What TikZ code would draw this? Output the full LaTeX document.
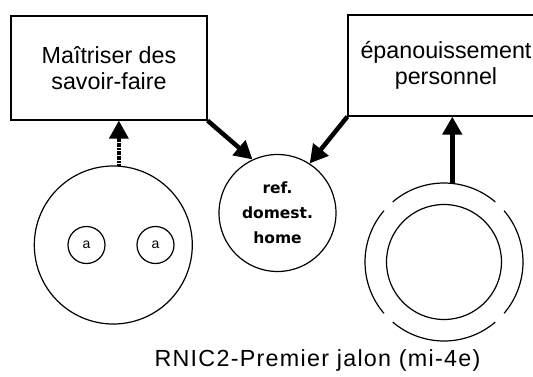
\documentclass[tikz,border=0pt]{standalone}
\usepackage{fontspec}
\setmainfont{Liberation Sans}
\newfontfamily\genevafont{DejaVu Sans}
\usetikzlibrary{arrows.meta}

\begin{document}
\begin{tikzpicture}[
  x=1pt, y=1pt,
  every node/.style={inner sep=0pt},
  goal/.style={draw, line width=1.2pt, align=center, minimum width=196pt, font=\fontsize{23.3}{26.5}\selectfont},
  bubble/.style={draw, circle, line width=1.2pt},
  link/.style={line width=4.5pt, -{Triangle[length=18pt,width=19pt]}},
  chain/.style={line width=3.5pt, dash pattern=on 2pt off 0.6pt, -{Triangle[length=18pt,width=19pt]}}
]
\useasboundingbox (0,0) rectangle (533,376);

\node[goal, minimum height=104pt] (skills) at (109,308) {Maîtriser des\\savoir-faire};
\node[goal, minimum height=101pt] (growth) at (446,310.5) {épanouissement\\personnel};

\node[bubble, minimum size=158pt] (group) at (113.3,131) {};
\node[bubble, minimum size=37pt, font=\fontsize{14}{16}\selectfont] (a1) at (86.5,131) {a};
\node[bubble, minimum size=37pt, font=\fontsize{14}{16}\selectfont] (a2) at (155.5,131) {a};

\node[bubble, minimum size=117pt, align=center, font=\genevafont\bfseries\fontsize{15.5}{25}\selectfont] (home) at (277.5,163) {ref.\\domest.\\home};

\node[bubble, minimum size=115pt] (self) at (444,114) {};
\node[circle, minimum size=158pt] (halo) at (444,114) {};
% outer ring, broken at the diagonals
\foreach \a in {45,135,225,315}
  \draw[line width=1.2pt] (halo.center) ++(\a+4.5:79) arc[start angle=\a+4.5, end angle=\a+85.5, radius=79];

\draw[chain] (group.86) -- (group.86 |- skills.south);
\draw[link] (skills.south east) -- (home.115);
\draw[link] (growth.south west) -- (home.57);
\draw[link] (halo.84) -- (halo.84 |- growth.south);

\node[anchor=base, font=\fontsize{23.3}{26}\selectfont\addfontfeature{LetterSpace=5.5}] (title) at (317.5,9.3) {RNIC2-Premier jalon (mi-4e)};
\end{tikzpicture}
\end{document}
